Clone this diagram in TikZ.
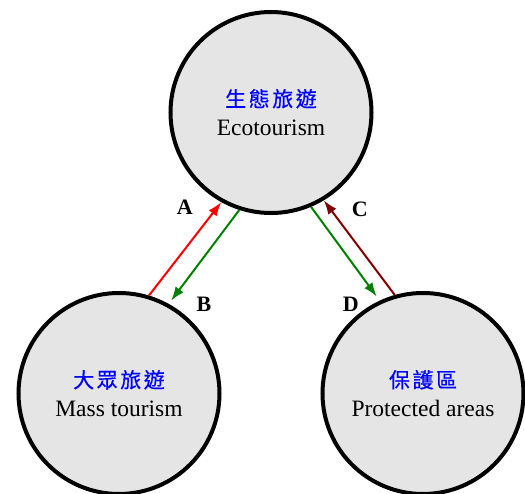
\documentclass[tikz,border=0pt]{standalone}
\usepackage{fontspec}
\setmainfont{Liberation Serif}
\newfontfamily\cjkfont[LetterSpace=12,FakeBold=0.6]{Noto Sans CJK TC}
\usetikzlibrary{matrix,arrows.meta,positioning}
\newcommand\zh[1]{{\cjkfont\fontsize{21}{29}\selectfont\color{blue}#1}}

\begin{document}
\begin{tikzpicture}[x=1pt,y=1pt,
  bubble/.style={circle,draw,line width=4pt,fill=black!10,minimum size=201pt,
    inner sep=0pt,align=center,font=\fontsize{23.5}{29}\selectfont},
  flow/.style={line width=2pt,-{Latex[length=14pt,width=10pt]}},
  tag/.style={inner sep=0pt,text=black,font=\fontsize{22}{26}\selectfont\bfseries}]
\useasboundingbox (0,0) rectangle (525,-494);
\matrix (m) at (271,-253) [row sep=76pt, column sep=-53pt]
{ & \node[bubble] (eco) {\zh{生態旅遊}\\Ecotourism}; & \\
  \node[bubble] (mass) {\zh{大眾旅遊}\\Mass tourism}; & & \node[bubble] (park) {\zh{保護區}\\Protected areas}; \\
};
\path[flow]
(mass.73)  edge[red] node (labA) [tag,pos=.95,left=24pt] {A} (eco.241)
(eco.252)  edge[green!50!black,shorten >=4pt] node (labB) [tag,pos=1,right=27pt] {B} (mass.61)
(park.106) edge[red!50!black] node (labC) [tag,pos=.9,right=20pt] {C} (eco.301)
(eco.293)  edge[green!50!black,shorten >=5pt] node (labD) [tag,pos=1,left=20pt,yshift=-4pt] {D} (park.115)
;
\end{tikzpicture}
\end{document}
